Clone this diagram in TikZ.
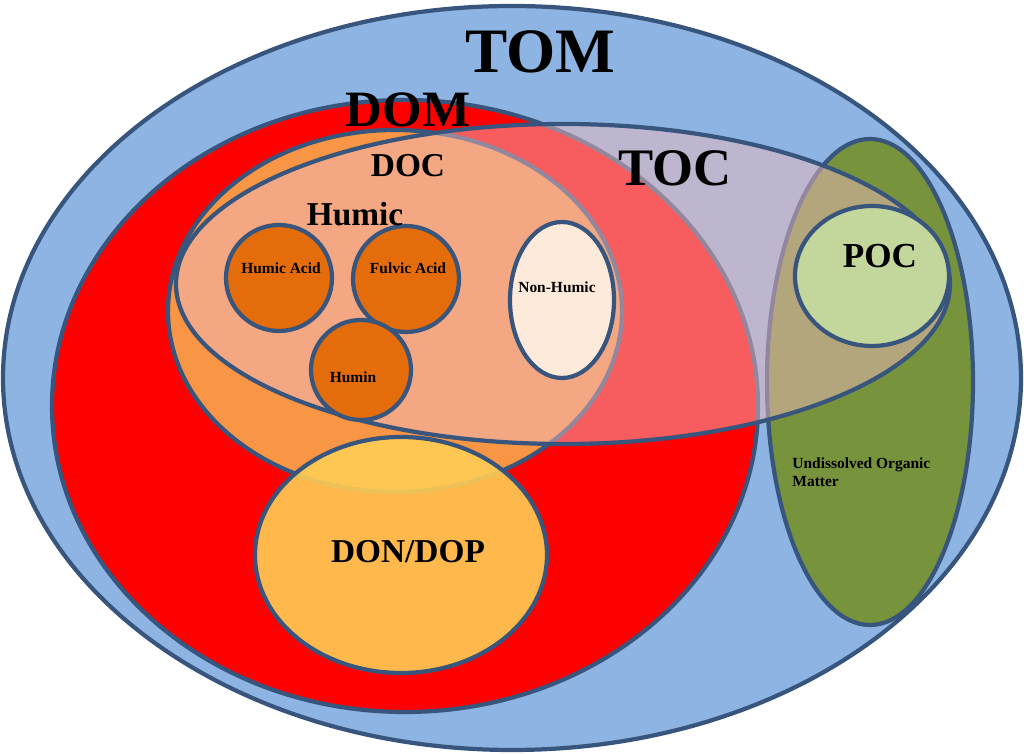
\documentclass[tikz,border=0pt]{standalone}
\usepackage{fontspec}
\setmainfont{Liberation Serif}
\usetikzlibrary{positioning}
\definecolor{tomblue}{RGB}{141,180,226}
\definecolor{edgeblue}{RGB}{55,85,125}
\definecolor{domred}{RGB}{255,0,0}
\definecolor{docorange}{RGB}{248,150,70}
\definecolor{humorange}{RGB}{228,108,10}
\definecolor{nonhum}{RGB}{253,234,218}
\definecolor{undgreen}{RGB}{119,147,60}
\definecolor{pocgreen}{RGB}{195,214,155}
\definecolor{dongold}{RGB}{255,205,85}
\definecolor{tocpink}{RGB}{240,185,190}
\begin{document}
\begin{tikzpicture}[
    blob/.style={draw=edgeblue,line width=1.2pt},
    big/.style={font=\bfseries\fontsize{#1}{#1}\selectfont},
    small/.style={font=\bfseries\fontsize{4.4}{5.2}\selectfont}
]
    \useasboundingbox (0,0) rectangle (10.24,7.54);
    % outer sets
    \draw[blob,fill=tomblue] (5.12,3.76) ellipse (5.09cm and 3.72cm);
    \draw[blob,fill=domred] (4.05,3.48) ellipse (3.53cm and 3.06cm);
    \draw[blob,fill=docorange] (3.95,4.43) ellipse (2.27cm and 1.81cm);
    \draw[blob,fill=undgreen] (8.70,3.72) ellipse (1.03cm and 2.43cm);
    % TOC overlay
    \draw[blob,fill=tocpink,fill opacity=0.5] (5.63,4.70) ellipse (3.87cm and 1.60cm);
    \draw[blob,fill=pocgreen] (8.72,4.78) ellipse (0.77cm and 0.70cm);
    % humic fractions
    \draw[blob,fill=humorange] (2.79,4.76) circle (0.53cm);
    \draw[blob,fill=humorange] (4.06,4.75) circle (0.53cm);
    \draw[blob,fill=humorange] (3.61,3.84) circle (0.50cm);
    \draw[blob,fill=nonhum] (5.62,4.54) ellipse (0.52cm and 0.78cm);
    \draw[blob,fill=dongold,fill opacity=0.9] (4.01,1.99) ellipse (1.46cm and 1.18cm);
    % labels
    \node[big=18] (tom) at (5.40,7.02) {TOM};
    \node[big=14.5] (dom) at (4.08,6.44) {DOM};
    \node[big=9.5] (doc) at (4.08,5.88) {DOC};
    \node[big=15] (toc) at (6.75,5.86) {TOC};
    \node[big=9.5] (humic) at (3.55,5.40) {Humic};
    \node[big=10] (poc) at (8.80,4.98) {POC};
    \node[big=9.5] (don) at (4.08,2.02) {DON/DOP};
    \node[small] (ha) at (2.81,4.86) {Humic Acid};
    \node[small] (fa) at (4.08,4.86) {Fulvic Acid};
    \node[small] (hu) at (3.53,3.77) {Humin};
    \node[small] (nh) at (5.57,4.67) {Non-Humic};
    \node[small,align=left,anchor=west] (um) at (7.80,2.82) {Undissolved Organic\\Matter};
\end{tikzpicture}
\end{document}
